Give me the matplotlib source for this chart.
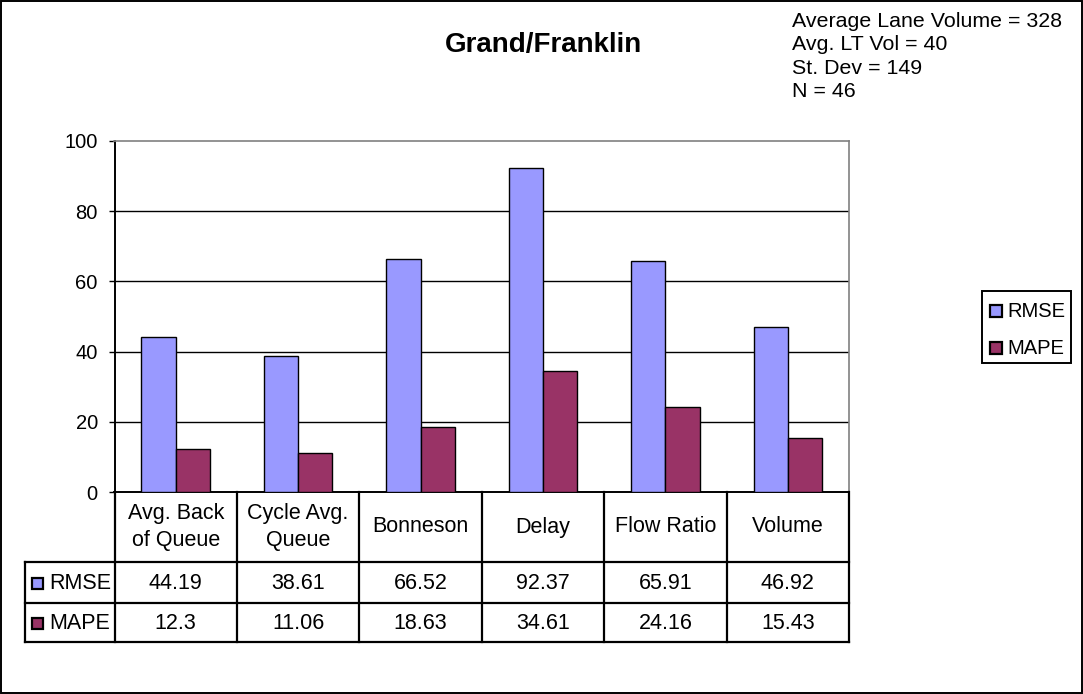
import matplotlib.pyplot as plt
from matplotlib.patches import Rectangle
import numpy as np

plt.rcParams['font.family'] = ['Liberation Sans', 'DejaVu Sans']

categories = ["Avg. Back\nof Queue", "Cycle Avg.\nQueue", "Bonneson", "Delay", "Flow Ratio", "Volume"]
rmse = [44.19, 38.61, 66.52, 92.37, 65.91, 46.92]
mape = [12.3, 11.06, 18.63, 34.61, 24.16, 15.43]
series_names = ["RMSE", "MAPE"]
series_colors = ["#9999FF", "#993366"]
notes = ["Average Lane Volume = 328", "Avg. LT Vol = 40", "St. Dev = 149", "N = 46"]

W, H = 1083, 694
fig = plt.figure(figsize=(W / 100, H / 100), dpi=100)

# plot area in pixels
px0, px1, py0, py1 = 114.5, 849, 141, 492
ax = fig.add_axes([px0 / W, 1 - py1 / H, (px1 - px0) / W, (py1 - py0) / H])

x = np.arange(len(categories))
bw = 0.28
ax.bar(x - bw, rmse, bw, align='edge', color=series_colors[0], edgecolor='black', lw=1, zorder=3)
ax.bar(x, mape, bw, align='edge', color=series_colors[1], edgecolor='black', lw=1, zorder=3)

ax.set_xlim(-0.5, len(categories) - 0.5)
ax.set_ylim(0, 100)
ax.set_yticks(range(0, 101, 20))
for v in range(20, 100, 20):
    ax.axhline(v, color='black', lw=1, zorder=1)
ax.set_xticks([])
ax.tick_params(axis='y', labelsize=14.5, length=4, width=1, direction='out', pad=8)
for s in ['top', 'right']:
    ax.spines[s].set_color('#808080')
    ax.spines[s].set_linewidth(1.2)
for s in ['left', 'bottom']:
    ax.spines[s].set_color('black')
    ax.spines[s].set_linewidth(1.4)

# overlay in pixel coordinates for title, notes, table, legend and border
ov = fig.add_axes([0, 0, 1, 1], facecolor='none')
ov.set_xlim(0, W)
ov.set_ylim(H, 0)
ov.axis('off')

ov.add_patch(Rectangle((1, 1), W - 2, H - 2, fill=False, ec='black', lw=1.4))
ov.text(544, 52, "Grand/Franklin", ha='center', va='baseline', fontsize=20, fontweight='bold')
for i, line in enumerate(notes):
    ov.text(792, 27 + 23.4 * i, line, ha='left', va='baseline', fontsize=15.4)

# data table under the plot
cw = (px1 - px0) / len(categories)
rows_y = [492, 562, 603, 642]
tx0 = 25
lw = 1.6
for y in rows_y[1:]:
    ov.plot([tx0, px1], [y, y], color='black', lw=lw, solid_capstyle='projecting')
ov.plot([tx0, tx0], [rows_y[1], rows_y[3]], color='black', lw=lw)
for j in range(len(categories) + 1):
    ov.plot([px0 + j * cw] * 2, [rows_y[0], rows_y[3]], color='black', lw=lw)
for j, cat in enumerate(categories):
    cx = px0 + (j + 0.5) * cw
    ov.text(cx, (rows_y[0] + rows_y[1]) / 2, cat, ha='center', va='center', fontsize=15.5, linespacing=1.4)
for r, (name, vals, col) in enumerate(zip(series_names, [rmse, mape], series_colors)):
    cy = (rows_y[r + 1] + rows_y[r + 2]) / 2 + 1
    ov.add_patch(Rectangle((32, cy - 6), 11, 11, fc=col, ec='black', lw=1.6))
    ov.text(49, cy, name, ha='left', va='center', fontsize=15.5)
    for j, v in enumerate(vals):
        ov.text(px0 + (j + 0.5) * cw, cy, f"{v:g}", ha='center', va='center', fontsize=15.5)

# legend
ov.add_patch(Rectangle((982, 291), 89, 72, fill=False, ec='black', lw=1.4))
for r, (name, col) in enumerate(zip(series_names, series_colors)):
    cy = 311 + 37 * r
    ov.add_patch(Rectangle((990, cy - 6), 12, 12, fc=col, ec='black', lw=1.6))
    ov.text(1007, cy, name, ha='left', va='center', fontsize=14.5)

fig.savefig("out.png", dpi=100)
